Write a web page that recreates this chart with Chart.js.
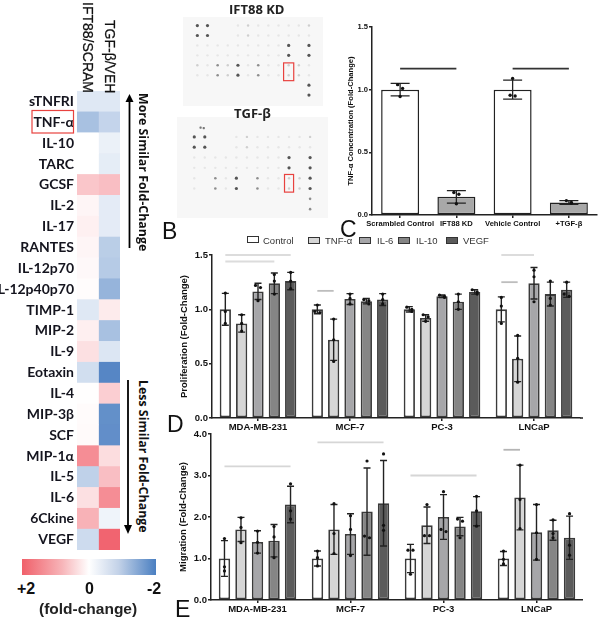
<!DOCTYPE html>
<html><head><meta charset="utf-8">
<script src="https://cdn.jsdelivr.net/npm/chart.js@4"></script>
<style>
html,body{margin:0;padding:0;background:#fff;width:600px;height:619px;overflow:hidden}
canvas{position:absolute;display:block;filter:blur(.3px)}
.t{position:absolute;white-space:nowrap;line-height:1;color:#111}
.v{writing-mode:vertical-rl}
.b{font-family:"Liberation Sans",Arial,sans-serif;font-weight:700}
.box{position:absolute;box-sizing:border-box;border:1.6px solid #333;height:7px}
</style></head><body>
<div id="cBar" style="position:absolute;left:22px;top:559px;width:134px;height:16px;background:linear-gradient(90deg,#f0606a,#f7b5b9 30%,#ffffff 50%,#c3d2e8 72%,#4a7fc1)"></div>
<script>
// ---------- heatmap ----------
const cytokines=['sTNFRI','TNF-α','IL-10','TARC','GCSF','IL-2','IL-17','RANTES','IL-12p70','IL-12p40p70','TIMP-1','MIP-2','IL-9','Eotaxin','IL-4','MIP-3β','SCF','MIP-1α','IL-5','IL-6','6Ckine','VEGF'];
const ift88Scram=[-0.35,-0.95,0,0,0.7,0.12,0.18,0.12,0.08,0.04,-0.35,0.2,0.38,-0.5,0.01,0.05,0.06,1.4,-0.7,0.38,0.95,-0.55];
const tgfVeh=[-0.35,-0.65,-0.22,-0.28,0.8,-0.3,-0.3,-0.75,-0.8,-1.15,0.25,-0.95,-0.38,-1.85,0.6,-1.7,-1.72,0.42,0.8,1.4,-0.17,1.9];
// ---------- dot blots: 0 none .. 4 darkest, rows x 12 columns ----------
const blotKD=[
[4,4,0,0,1,2,1,1,1,1,1,2],
[4,4,0,0,1,2,1,1,1,1,1,1],
[1,1,1,1,1,1,1,1,1,4,0,4],
[1,1,1,1,1,1,1,1,1,4,0,4],
[2,1,3,2,4,1,3,1,1,2,2,1],
[1,1,3,2,4,1,3,1,1,2,2,1],
[0,0,0,0,0,0,0,0,0,0,0,4],
[0,0,0,0,0,0,0,0,0,0,0,4]];
const blotTGF=[
[4,4,0,0,1,2,1,1,1,1,1,2],
[4,4,0,0,1,2,1,1,1,1,1,1],
[1,1,1,1,1,1,1,1,1,4,0,4],
[1,1,1,1,1,1,1,1,1,4,0,4],
[1,0,3,1,4,0,3,1,1,2,2,4],
[1,0,3,1,4,0,3,1,1,2,2,4],
[0,0,0,0,0,0,0,0,0,0,0,3],
[0,0,0,0,0,0,0,0,0,0,0,3]];
// ---------- panel C ----------
const tnfCats=['Scrambled Control','IFT88 KD','Vehicle Control','+TGF-β'];
const tnfMeans=[1,0.145,1,0.1];
const tnfSD=[0.05,0.05,0.076,0.015];
const tnfPts=[[1.04,1.01,0.945],[0.18,0.165,0.09],[1.09,0.955,0.95],[0.115,0.1,0.095]];
// ---------- panels D, E ----------
const cellLines=['MDA-MB-231','MCF-7','PC-3','LNCaP'];
const treatments=['Control','TNF-α','IL-6','IL-10','VEGF'];
const prolifControl=[1,1,1,1];
const prolifTNF=[0.87,0.72,0.92,0.545];
const prolifIL6=[1.165,1.095,1.12,1.24];
const prolifIL10=[1.24,1.075,1.07,1.14];
const prolifVEGF=[1.26,1.09,1.16,1.18];
const prolifSD=[[.147,.04,.025,.115],[.08,.19,.03,.21],[.075,.05,.012,.145],[.095,.025,.07,.11],[.08,.055,.02,.07]];
const prolifPts=[
[[1.15,.98,.87],[1.04,.98,.97],[1.02,1,.98],[1.11,1.03,.87]],
[[.95,.87,.8],[.91,.72,.52],[.95,.93,.89],[.76,.55,.33]],
[[1.22,1.2,1.08],[1.14,1.1,1.05],[1.13,1.12,1.11],[1.36,1.3,1.07]],
[[1.32,1.26,1.14],[1.09,1.08,1.05],[1.14,1.07,1],[1.26,1.1,1.04]],
[[1.34,1.26,1.19],[1.14,1.09,1.05],[1.18,1.16,1.14],[1.25,1.14,1.12]]];
const migControl=[1,1,1,1];
const migTNF=[1.7,1.7,1.8,2.47];
const migIL6=[1.4,1.59,2,1.63];
const migIL10=[1.43,2.13,1.77,1.68];
const migVEGF=[2.3,2.33,2.14,1.5];
const migSD=[[.43,.18,.34,.17],[.29,.6,.44,.78],[.27,.49,.54,.67],[.39,1.05,.22,.24],[.44,1.03,.35,.52]];
const migPts=[
[[1.48,.8,.7],[1.18,1.02,.82],[1.2,1.2,.62],[1.18,.98,.87]],
[[1.98,1.75,1.38],[2.32,1.6,1.12],[2.3,1.55,1.55],[3.25,2.42,1.72]],
[[1.66,1.39,1.13],[2.03,1.7,1.07],[2.61,1.7,1.65],[2.3,1.62,.98]],
[[1.77,1.52,1.02],[3.35,1.54,1.5],[1.95,1.9,1.5],[1.93,1.6,1.5]],
[[2.8,2.15,1.95],[3.52,1.8,1.68],[2.5,2.15,1.78],[2.08,1.32,1.08]]];
// significance lines: [group, first bar, last bar, value, colour]
const prolifSig=[[0,0,4,1.5,'#dcdcdc'],[0,0,3,1.44,'#dcdcdc'],[1,0,1,1.17,'#bdbdbd'],[3,0,2,1.5,'#dcdcdc'],[3,0,1,1.25,'#bdbdbd']];
const migSig=[[0,0,4,3.22,'#d6d6d6'],[1,0,4,3.8,'#d6d6d6'],[2,0,4,3,'#d6d6d6'],[3,0,1,3.62,'#b5b5b5']];
const tnfSig=[[0,1,1.168],[2,3,1.168]];

const barFills=['#ffffff','#d6d6d6','#a6a6a9','#858585','#5b5b5b'];
const axisCol='#222';

function mk(left,top,w,h){const c=document.createElement('canvas');c.width=w;c.height=h;
 c.style.cssText=`left:${left}px;top:${top}px;width:${w}px;height:${h}px`;document.body.appendChild(c);return c;}
function lerp(a,b,t){return a.map((v,i)=>Math.round(v+(b[i]-v)*t));}
function heatCol(v){const t=Math.min(1,Math.abs(v)/2);const c=v>0?[240,92,104]:[72,124,192];
 return 'rgb('+lerp([255,255,255],c,t).join(',')+')';}
Chart.defaults.animation=false;
Chart.defaults.responsive=false;
Chart.defaults.plugins.legend.display=false;
Chart.defaults.plugins.tooltip.enabled=false;

// heatmap
new Chart(mk(0,91,125,459),{type:'bar',
 data:{labels:cytokines,datasets:[ift88Scram,tgfVeh].map(s=>({
  data:s.map((v,i)=>({y:cytokines[i],x:1,v})),
  backgroundColor:c=>heatCol(c.raw.v),borderWidth:0,barPercentage:1,categoryPercentage:1}))},
 options:{indexAxis:'y',layout:{padding:{top:0,bottom:0,right:5}},
  scales:{x:{display:false,stacked:true,min:0,max:2},
   y:{stacked:true,grid:{display:false,drawTicks:false},border:{display:false},afterFit(s){s.width=77;s.paddingTop=0;s.paddingBottom=0;},
    ticks:{autoSkip:false,padding:3,color:'#14141e',font:{family:'Lato',weight:'700',size:14}}}}}});

// blots
function blot(left,top,w,h,matrix,xr,yr,box,smudge){
 const pts=[];matrix.forEach((r,ri)=>r.forEach((v,ci)=>{if(v)pts.push({x:ci+1,y:ri+1,v});}));
 const levels=['','#e6e6e6','#cfcfcf','#8e8e8e','#555555'];const radii=[0,1.2,1.2,1.3,1.6];
 const ds=[{data:pts,pointBackgroundColor:c=>levels[c.raw.v],pointRadius:c=>radii[c.raw.v],pointBorderWidth:0}];
 if(smudge)ds.push({data:smudge,pointStyle:'rectRounded',pointBackgroundColor:'#777',pointRadius:1.3,pointBorderWidth:0});
 new Chart(mk(left,top,w,h),{type:'scatter',data:{datasets:ds},
  options:{layout:{padding:0},scales:{x:{display:false,min:xr[0],max:xr[1]},y:{display:false,reverse:true,min:yr[0],max:yr[1]}}},
  plugins:[{id:'bg',beforeDraw(ch){const g=ch.ctx;g.fillStyle='#f7f7f7';g.fillRect(0,0,w,h);},
   afterDraw(ch){const g=ch.ctx,X=ch.scales.x,Y=ch.scales.y;g.strokeStyle='#e8423f';g.lineWidth=1.2;
    g.strokeRect(X.getPixelForValue(10-box[0]),Y.getPixelForValue(box[1]),X.getPixelForValue(10+box[0])-X.getPixelForValue(10-box[0]),Y.getPixelForValue(box[2])-Y.getPixelForValue(box[1]));}}]});
}
blot(183,17,140,89,blotKD,[-0.02,12.99],[0.54,8.7],[.5,4.76,6.55]);
blot(177,117,151,101,blotTGF,[-0.26,13.32],[-0.54,8.47],[.43,4.64,6.35],[{x:1.6,y:0.1},{x:1.9,y:0.15}]);

// bar panels
function errorPlugin(sd,pts,opt){return {id:'err',afterDatasetsDraw(ch){
 const g=ch.ctx,Y=ch.scales.y;
 if(opt.ext){g.strokeStyle=axisCol;g.lineWidth=1.5;g.beginPath();g.moveTo(ch.chartArea.right,ch.chartArea.bottom);g.lineTo(ch.chartArea.right+opt.ext,ch.chartArea.bottom);g.stroke();}
 ch.data.datasets.forEach((ds,di)=>{ch.getDatasetMeta(di).data.forEach((el,gi)=>{
  const m=ds.data[gi],s=sd[di][gi],x=el.x,t=Y.getPixelForValue(m+s),b=Y.getPixelForValue(m-s);
  g.strokeStyle='#222';g.lineWidth=opt.lw;g.beginPath();g.moveTo(x,t);g.lineTo(x,b);
  g.moveTo(x-opt.cap,t);g.lineTo(x+opt.cap,t);g.moveTo(x-opt.cap,b);g.lineTo(x+opt.cap,b);g.stroke();
  const ys=pts[di][gi].map(v=>Y.getPixelForValue(v));g.fillStyle='#111';
  ys.forEach((y,i)=>{let dx=0;
   if(i>0&&Math.abs(ys[i-1]-y)<4)dx=2.5;else if(i<ys.length-1&&Math.abs(ys[i+1]-y)<4)dx=-2.5;
   g.beginPath();g.arc(x+dx,y,opt.r,0,7);g.fill();});
 });});
 (opt.sig||[]).forEach(l=>{const a=ch.getDatasetMeta(l[1]).data[l[0]],e=ch.getDatasetMeta(l[2]).data[l[0]],y=Y.getPixelForValue(l[3]);
  g.strokeStyle=l[4];g.lineWidth=opt.sigW||1.8;g.beginPath();g.moveTo(a.x,y);g.lineTo(e.x,y);g.stroke();});
}};}
function axis(size,yw,xh,titleText,titlePad,extra){return {
 x:{grid:{display:true,drawOnChartArea:false,offset:false,color:axisCol,tickLength:3,lineWidth:1.5},border:{color:axisCol,width:1.5},
   afterFit(s){s.height=xh;},ticks:{autoSkip:false,maxRotation:0,padding:1,color:'#111',font:{family:'Liberation Sans',weight:'700',size}}},
 y:Object.assign({grid:{display:true,drawOnChartArea:false,color:axisCol,tickLength:3,lineWidth:1.5},border:{color:axisCol,width:1.5},
   afterFit(s){s.width=yw;},title:{display:true,text:titleText,padding:{top:titlePad,bottom:0},color:'#111',font:{family:'Liberation Sans',weight:'700',size}},
   ticks:{padding:1,color:'#111',font:{family:'Liberation Sans',weight:'700',size},callback:v=>v.toFixed(1)}},extra)};}

// C
new Chart(mk(340,15,260,215),{type:'bar',
 data:{labels:tnfCats,datasets:[{data:tnfMeans,backgroundColor:['#fff','#a8a8a8','#fff','#a8a8a8'],borderColor:'#222',borderWidth:1.5,borderSkipped:false,categoryPercentage:1,barPercentage:.675}]},
 options:{layout:{padding:{top:12,right:3}},scales:axis(7.6,32,15,'TNF-α Concentration (Fold-Change)',6,{min:0,max:1.5,ticks:{stepSize:.5,padding:1,color:'#111',font:{family:'Liberation Sans',weight:'700',size:7.6},callback:v=>v.toFixed(1)}})},
 plugins:[errorPlugin([tnfSD],[tnfPts],{lw:1.3,cap:9.5,r:1.7}),{id:'tsig',afterDatasetsDraw(ch){const g=ch.ctx,m=ch.getDatasetMeta(0).data,y=ch.scales.y;
  tnfSig.forEach(l=>{g.strokeStyle='#333';g.lineWidth=1.6;g.beginPath();g.moveTo(m[l[0]].x,y.getPixelForValue(l[2]));g.lineTo(m[l[1]].x,y.getPixelForValue(l[2]));g.stroke();});}}]});

function groupChart(left,top,w,h,series,sd,pts,sig,pad,yw,xh,title,titlePad,yopts,ext){
 new Chart(mk(left,top,w,h),{type:'bar',
  data:{labels:cellLines,datasets:series.map((d,i)=>({label:treatments[i],data:d,backgroundColor:barFills[i],borderColor:'#3a3a3a',borderWidth:1.8,borderSkipped:false,categoryPercentage:.888,barPercentage:.69}))},
  options:{layout:{padding:pad},scales:axis(9.5,yw,xh,title,titlePad,yopts)},
  plugins:[errorPlugin(sd,pts,{lw:1.4,cap:3.5,r:1.6,sig,ext})]});
}
const tickFont={family:'Liberation Sans',weight:'700',size:9.5};
groupChart(160,245,423,190,[prolifControl,prolifTNF,prolifIL6,prolifIL10,prolifVEGF],prolifSD,prolifPts,prolifSig,{top:10,right:3},52,17,'Proliferation (Fold-Change)',19,
 {min:0,max:1.5,ticks:{stepSize:.5,padding:1,color:'#111',font:tickFont,callback:v=>v.toFixed(1)}},3);
groupChart(160,424,423,195,[migControl,migTNF,migIL6,migIL10,migVEGF],migSD,migPts,migSig,{top:10},51,19,'Migration (Fold-Change)',18,
 {min:0,max:4,ticks:{stepSize:1,padding:1,color:'#111',font:tickFont,callback:v=>v.toFixed(1)}},0);

// legend and labels
function addText(txt,x,y,css,cls){const d=document.createElement('div');d.className='t '+(cls||'');d.textContent=txt;d.style.cssText+=`left:${x}px;top:${y}px;${css}`;document.body.appendChild(d);return d;}
const legendBoxes=[[247,12],[308,11.5],[359,12],[398,12],[446,12]];
const legendText=[263,325,377,416,463];
treatments.forEach((n,i)=>{
 const b=document.createElement('div');b.className='box';
 b.style.cssText=`left:${legendBoxes[i][0]}px;top:${i?237:236}px;width:${legendBoxes[i][1]}px;background:${barFills[i]}`;document.body.appendChild(b);
 addText(n,legendText[i],235,'font:9.5px "Liberation Sans";color:#333');});
const vf='font:400 14px "Liberation Sans";-webkit-text-stroke:.25px #111;';
addText('IFT88/SCRAM',80,2,vf+'color:#111','v');
addText('TGF-β/VEH',102,20,vf+'color:#111','v');
addText('More Similar Fold-Change',135,93,'font:700 12.4px "Open Sans";color:#111','v');
addText('Less Similar Fold-Change',135,380,'font:700 12.4px "Open Sans";color:#111','v');
addText('+2',17,581,'font-size:16px','b');
addText('0',85,581,'font-size:16px','b');
addText('-2',147,581,'font-size:16px','b');
addText('(fold-change)',39,601,'font-size:15.5px;color:#222','b');
addText('IFT88 KD',229,0,'font:700 13px "Open Sans";color:#222');
addText('TGF-β',234,104,'font:700 13px "Open Sans";color:#222');
addText('B',162,218,'font:23px "Liberation Sans";color:#111');
addText('C',340,216,'font:23px "Liberation Sans";color:#111');
addText('D',167,411,'font:23px "Liberation Sans";color:#111');
addText('E',175,596,'font:23px "Liberation Sans";color:#111');
const ns='http://www.w3.org/2000/svg';
const s=document.createElementNS(ns,'svg');s.setAttribute('width',600);s.setAttribute('height',619);s.style.cssText='position:absolute;left:0;top:0;pointer-events:none';
s.innerHTML='<rect x="32" y="110.5" width="41.5" height="22.5" fill="none" stroke="#e8423f" stroke-width="1.2"/>'
+'<line x1="129.5" y1="248" x2="129.5" y2="100" stroke="#000" stroke-width="1.8"/><path d="M125.5 102 L129.5 94 L133.5 102 Z" fill="#000"/>'
+'<line x1="128" y1="380" x2="128" y2="526" stroke="#000" stroke-width="1.8"/><path d="M124 525 L128 534 L132 525 Z" fill="#000"/>';
document.body.appendChild(s);
</script></body></html>
